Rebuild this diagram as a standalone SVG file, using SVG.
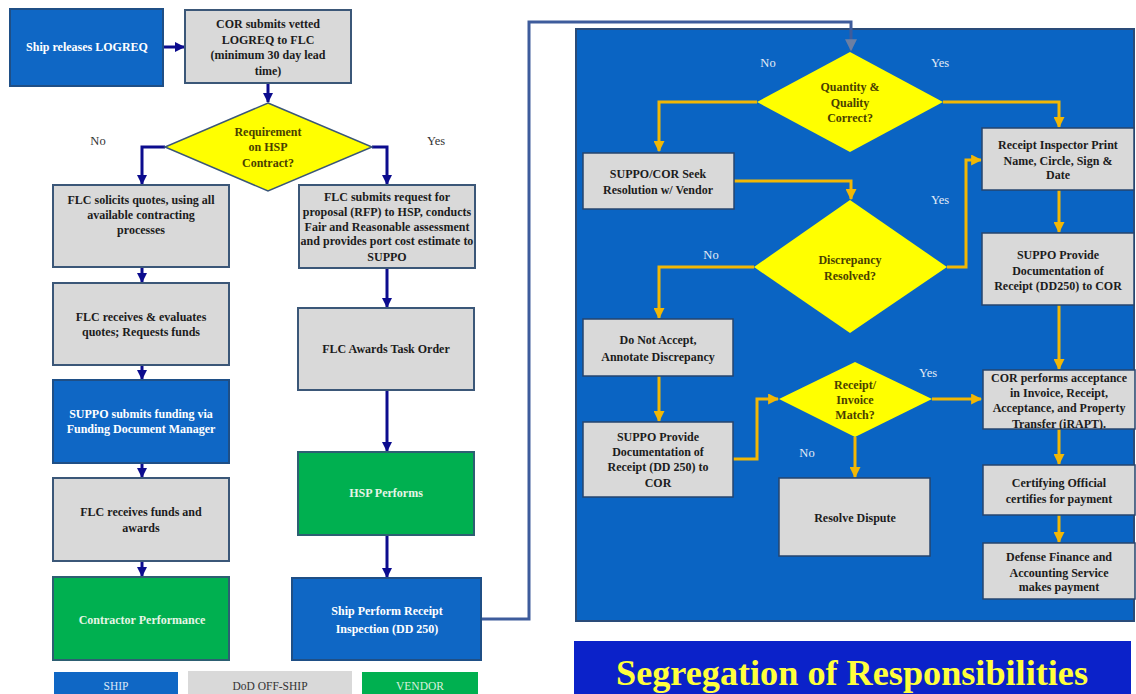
<svg xmlns="http://www.w3.org/2000/svg" width="1136" height="694" viewBox="0 0 1136 694">
<style>
  .t{font-family:"Liberation Serif","Times New Roman",serif;font-weight:bold;font-size:12px;text-anchor:middle;fill:#1c1c1c}
  .w{fill:#ffffff}
  .lg{fill:#e6f5e6}
  .dm{fill:#4a3f00}
  .lbl{font-family:"Liberation Serif","Times New Roman",serif;font-size:12.5px;text-anchor:middle;fill:#333}
  .plbl{font-family:"Liberation Serif","Times New Roman",serif;font-size:12.5px;text-anchor:middle;fill:#e4ecf6}
  .gray{fill:#d9d9d9;stroke:#3b5778;stroke-width:2}
  .pgray{fill:#d9d9d9;stroke:#26446e;stroke-width:1.5}
  .blue{fill:#0f67c5;stroke:#1f4f86;stroke-width:2}
  .green{fill:#00b050;stroke:#2d5f72;stroke-width:2}
  .dia{fill:#ffff00;stroke:#3b5778;stroke-width:1.5}
  .pdia{fill:#ffff00;stroke:none}
  .nav{fill:none;stroke:#0c0c8e;stroke-width:3;marker-end:url(#an)}
  .gold{fill:none;stroke:#f2b705;stroke-width:3;marker-end:url(#ag)}
</style>
<defs>
  <marker id="an" viewBox="0 0 10 10" refX="9" refY="5" markerWidth="10" markerHeight="10" markerUnits="userSpaceOnUse" orient="auto"><path d="M0,0 L10,5 L0,10 z" fill="#0c0c8e"/></marker>
  <marker id="ag" viewBox="0 0 10 10" refX="9" refY="5" markerWidth="11" markerHeight="11" markerUnits="userSpaceOnUse" orient="auto"><path d="M0,0 L10,5 L0,10 z" fill="#f2b705"/></marker>
  <marker id="as" viewBox="0 0 10 10" refX="9" refY="5" markerWidth="12" markerHeight="12" markerUnits="userSpaceOnUse" orient="auto"><path d="M0,0 L10,5 L0,10 z" fill="#6c7fa3"/></marker>
  <clipPath id="corclip"><rect x="983" y="370" width="152" height="59"/></clipPath>
</defs>
<rect x="0" y="0" width="1136" height="694" fill="#ffffff"/>

<!-- right panel background -->
<rect id="panel" x="576" y="29" width="558" height="592" fill="#0a64c3" stroke="#2a4b78" stroke-width="2"/>

<!-- connectors -->
<g id="connectors">
  <path class="nav" d="M163,47 H184"/>
  <path class="nav" d="M268,83 V102"/>
  <path class="nav" d="M165,147 H142 V184"/>
  <path class="nav" d="M372,147 H387 V184"/>
  <path class="nav" d="M142,267 V282"/>
  <path class="nav" d="M142,365 V379"/>
  <path class="nav" d="M142,463 V477"/>
  <path class="nav" d="M142,561 V576"/>
  <path class="nav" d="M387,268 V307"/>
  <path class="nav" d="M387,390 V451"/>
  <path class="nav" d="M387,535 V577"/>
  <path d="M482,619 H529 V22 H851 V50" fill="none" stroke="#3e5c9c" stroke-width="3" marker-end="url(#as)"/>

  <path class="gold" d="M757,102 H659 V151"/>
  <path class="gold" d="M943,102 H1059 V127"/>
  <path class="gold" d="M734,181 H851 V199"/>
  <path class="gold" d="M947,267 H966 V160 H981"/>
  <path class="gold" d="M754,267 H659 V318"/>
  <path class="gold" d="M659,376 V421"/>
  <path class="gold" d="M733,459 H757 V399 H778"/>
  <path class="gold" d="M932,399 H981"/>
  <path class="gold" d="M855,437 V477"/>
  <path class="gold" d="M1059,190 V232"/>
  <path class="gold" d="M1059,305 V369"/>
  <path class="gold" d="M1059,429 V464"/>
  <path class="gold" d="M1059,515 V542"/>
</g>

<!-- left flow -->
<g id="ship-releases">
  <rect class="blue" x="10" y="9" width="153" height="77"/>
  <text class="t w" x="87" y="51">Ship releases LOGREQ</text>
</g>
<g id="cor-submits">
  <rect class="gray" x="185" y="10" width="166" height="73"/>
  <text class="t" x="268" y="28">COR submits vetted</text>
  <text class="t" x="268" y="44">LOGREQ to FLC</text>
  <text class="t" x="268" y="59">(minimum 30 day lead</text>
  <text class="t" x="268" y="75">time)</text>
</g>
<g id="req-hsp">
  <polygon class="dia" points="268,103 372,147 268,191 165,147"/>
  <text class="t dm" x="268" y="136">Requirement</text>
  <text class="t dm" x="268" y="151">on HSP</text>
  <text class="t dm" x="268" y="167">Contract?</text>
</g>
<text class="lbl" x="98" y="145">No</text>
<text class="lbl" x="436" y="145">Yes</text>

<g id="flc-solicits">
  <rect class="gray" x="53" y="185" width="176" height="82"/>
  <text class="t" x="141" y="204">FLC solicits quotes, using all</text>
  <text class="t" x="141" y="219">available contracting</text>
  <text class="t" x="141" y="234">processes</text>
</g>
<g id="flc-rfp">
  <rect class="gray" x="299" y="185" width="176" height="83"/>
  <text class="t" x="387" y="201">FLC  submits request for</text>
  <text class="t" x="387" y="216">proposal (RFP) to HSP, conducts</text>
  <text class="t" x="387" y="231">Fair and Reasonable assessment</text>
  <text class="t" x="387" y="245">and provides port cost estimate to</text>
  <text class="t" x="387" y="261">SUPPO</text>
</g>
<g id="flc-evaluates">
  <rect class="gray" x="53" y="283" width="176" height="82"/>
  <text class="t" x="141" y="321">FLC receives &amp; evaluates</text>
  <text class="t" x="141" y="336">quotes; Requests funds</text>
</g>
<g id="suppo-funding">
  <rect class="blue" x="53" y="380" width="176" height="83"/>
  <text class="t w" x="141" y="418">SUPPO submits funding via</text>
  <text class="t w" x="141" y="433">Funding Document Manager</text>
</g>
<g id="flc-funds">
  <rect class="gray" x="53" y="478" width="176" height="83"/>
  <text class="t" x="141" y="516">FLC receives funds  and</text>
  <text class="t" x="141" y="532">awards</text>
</g>
<g id="contractor-performance">
  <rect class="green" x="53" y="577" width="176" height="83"/>
  <text class="t lg" x="142" y="624">Contractor Performance</text>
</g>
<g id="flc-awards">
  <rect class="gray" x="298" y="308" width="176" height="82"/>
  <text class="t" x="386" y="353">FLC Awards Task Order</text>
</g>
<g id="hsp-performs">
  <rect class="green" x="298" y="452" width="176" height="83"/>
  <text class="t lg" x="386" y="497">HSP Performs</text>
</g>
<g id="ship-inspection">
  <rect class="blue" x="292" y="578" width="189" height="82"/>
  <text class="t w" x="387" y="615">Ship Perform Receipt</text>
  <text class="t w" x="387" y="633">Inspection (DD 250)</text>
</g>

<!-- legend -->
<g id="legend">
  <rect x="54" y="672" width="124" height="24" fill="#0f67c5"/>
  <text class="lbl" x="116" y="690" style="fill:#dbe8f7;font-size:11.5px">SHIP</text>
  <rect x="188" y="671" width="164" height="25" fill="#d9d9d9"/>
  <text class="lbl" x="270" y="690" style="fill:#333;font-size:11.5px">DoD OFF-SHIP</text>
  <rect x="362" y="672" width="116" height="24" fill="#00b050"/>
  <text class="lbl" x="420" y="690" style="fill:#d8f2dc;font-size:11.5px">VENDOR</text>
</g>

<!-- panel nodes -->
<g id="qty-quality">
  <polygon class="pdia" points="850,52 943,102 850,152 757,102"/>
  <text class="t dm" x="850" y="91">Quantity &amp;</text>
  <text class="t dm" x="850" y="107">Quality</text>
  <text class="t dm" x="850" y="122">Correct?</text>
</g>
<text class="plbl" x="768" y="67">No</text>
<text class="plbl" x="940" y="67">Yes</text>

<g id="suppo-cor-seek">
  <rect class="pgray" x="583" y="153" width="151" height="56"/>
  <text class="t" x="658" y="178">SUPPO/COR Seek</text>
  <text class="t" x="658" y="194">Resolution w/ Vendor</text>
</g>
<g id="discrepancy">
  <polygon class="pdia" points="850,200 947,267 850,333 754,267"/>
  <text class="t dm" x="850" y="264">Discrepancy</text>
  <text class="t dm" x="850" y="280">Resolved?</text>
</g>
<text class="plbl" x="711" y="259">No</text>
<text class="plbl" x="940" y="204">Yes</text>

<g id="receipt-inspector">
  <rect class="pgray" x="982" y="128" width="152" height="62"/>
  <text class="t" x="1058" y="149">Receipt Inspector Print</text>
  <text class="t" x="1058" y="165">Name, Circle, Sign &amp;</text>
  <text class="t" x="1058" y="179">Date</text>
</g>
<g id="suppo-dd250-a">
  <rect class="pgray" x="982" y="233" width="152" height="72"/>
  <text class="t" x="1058" y="259">SUPPO Provide</text>
  <text class="t" x="1058" y="275">Documentation of</text>
  <text class="t" x="1058" y="290">Receipt (DD250) to COR</text>
</g>
<g id="do-not-accept">
  <rect class="pgray" x="583" y="319" width="150" height="57"/>
  <text class="t" x="658" y="344">Do Not Accept,</text>
  <text class="t" x="658" y="361">Annotate Discrepancy</text>
</g>
<g id="suppo-dd250-b">
  <rect class="pgray" x="583" y="422" width="150" height="75"/>
  <text class="t" x="658" y="441">SUPPO Provide</text>
  <text class="t" x="658" y="456">Documentation of</text>
  <text class="t" x="658" y="471">Receipt (DD 250) to</text>
  <text class="t" x="658" y="487">COR</text>
</g>
<g id="receipt-invoice">
  <polygon class="pdia" points="855,362 932,399 855,437 779,399"/>
  <text class="t dm" x="855" y="389">Receipt/</text>
  <text class="t dm" x="855" y="404">Invoice</text>
  <text class="t dm" x="855" y="419">Match?</text>
</g>
<text class="plbl" x="928" y="377">Yes</text>
<text class="plbl" x="807" y="457">No</text>

<g id="resolve-dispute">
  <rect class="pgray" x="779" y="478" width="151" height="78"/>
  <text class="t" x="855" y="522">Resolve Dispute</text>
</g>
<g id="cor-irapt">
  <rect class="pgray" x="983" y="370" width="152" height="59"/>
  <g clip-path="url(#corclip)">
    <text class="t" x="1059" y="382">COR performs acceptance</text>
    <text class="t" x="1059" y="397">in Invoice, Receipt,</text>
    <text class="t" x="1059" y="412">Acceptance, and Property</text>
    <text class="t" x="1059" y="428">Transfer (iRAPT).</text>
  </g>
</g>
<g id="certifying">
  <rect class="pgray" x="983" y="465" width="152" height="50"/>
  <text class="t" x="1059" y="487">Certifying Official</text>
  <text class="t" x="1059" y="503">certifies  for payment</text>
</g>
<g id="dfas">
  <rect class="pgray" x="983" y="543" width="152" height="56"/>
  <text class="t" x="1059" y="561">Defense Finance and</text>
  <text class="t" x="1059" y="577">Accounting Service</text>
  <text class="t" x="1059" y="591">makes payment</text>
</g>

<!-- title -->
<g id="title">
  <rect x="574" y="641" width="557" height="60" fill="#0b22c9"/>
  <text x="852" y="685" textLength="472" lengthAdjust="spacingAndGlyphs" style="font-family:'Liberation Serif','Times New Roman',serif;font-weight:bold;font-size:36px;text-anchor:middle;fill:#ffff3c">Segregation of Responsibilities</text>
</g>
</svg>
